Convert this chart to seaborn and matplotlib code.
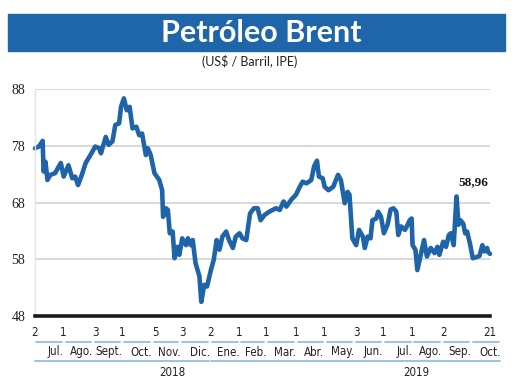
import numpy as np
import pandas as pd
import matplotlib
matplotlib.use('Agg')
from matplotlib import pyplot as plt
from matplotlib import transforms
from matplotlib.patches import Rectangle
import matplotlib.dates as mdates
import seaborn as sns

# Brent: dias desde 2018-07-02 y precio (US$/barril)
start = pd.Timestamp('2018-07-02')
days = [0, 4, 8, 9, 11, 13, 16, 21, 27, 30, 35, 39, 42, 45, 49, 53, 58, 63, 67, 69,
        74, 77, 81, 84, 88, 90, 93, 96, 99, 102, 106, 109, 112, 116, 118, 121, 125, 130, 133, 134,
        137, 139, 141, 144, 146, 149, 151, 154, 158, 160, 163, 165, 168, 172, 174, 177, 180, 184, 187, 190,
        193, 196, 200, 203, 207, 210, 214, 217, 221, 225, 229, 233, 236, 240, 245, 252, 256, 260, 263, 268,
        273, 277, 280, 284, 289, 292, 295, 297, 301, 303, 307, 312, 317, 320, 324, 327, 329, 332, 336, 339,
        343, 345, 348, 351, 353, 357, 359, 362, 365, 369, 372, 375, 378, 380, 383, 387, 389, 392, 394, 395,
        398, 400, 404, 407, 410, 414, 418, 421, 423, 427, 430, 433, 435, 438, 441, 443, 445, 448, 450, 452,
        455, 458, 462, 465, 468, 470, 473, 474, 476]
prices = [77.6, 77.9, 78.9, 73.5, 75.2, 72.0, 72.9, 73.2, 75.0, 72.6, 74.6, 72.3, 72.6, 71.1, 72.9, 75.0, 76.4, 77.9, 77.6, 76.7,
          79.6, 78.2, 78.8, 81.7, 82.0, 84.9, 86.4, 84.3, 84.9, 81.1, 81.4, 79.9, 80.2, 76.4, 77.6, 76.4, 73.2, 72.0, 70.2, 65.5,
          67.0, 66.7, 62.6, 62.9, 58.2, 60.2, 58.8, 61.7, 60.5, 61.7, 60.5, 61.4, 57.3, 55.0, 50.5, 53.5, 53.2, 56.1, 57.9, 61.4,
          59.7, 62.0, 62.9, 61.4, 60.0, 62.0, 62.6, 61.7, 61.4, 66.1, 67.0, 67.0, 64.9, 65.8, 66.4, 67.0, 66.7, 68.2, 67.3, 68.5,
          69.4, 70.8, 71.7, 71.4, 72.0, 74.4, 75.4, 72.6, 72.3, 70.8, 70.2, 70.8, 72.9, 72.0, 67.9, 69.9, 69.4, 61.7, 60.5, 63.2,
          62.0, 60.0, 62.0, 61.7, 64.9, 65.2, 66.4, 65.5, 62.6, 64.2, 66.8, 67.0, 66.4, 62.3, 63.8, 63.2, 63.8, 64.9, 65.2, 60.5,
          59.7, 56.1, 59.1, 61.4, 58.5, 60.0, 59.1, 60.2, 58.8, 61.1, 60.2, 62.3, 62.6, 60.5, 69.1, 64.1, 64.9, 64.3, 62.6, 62.9,
          60.8, 58.2, 58.4, 58.6, 60.5, 59.4, 60.0, 59.3, 58.96]

tick_dates = ['2018-07-02', '2018-08-01', '2018-09-03', '2018-10-01', '2018-11-05', '2018-12-03',
              '2019-01-02', '2019-02-01', '2019-03-01', '2019-04-01', '2019-05-01', '2019-06-03',
              '2019-07-01', '2019-08-01', '2019-09-02', '2019-10-21']
tick_labels = ['2', '1', '3', '1', '5', '3', '2', '1', '1', '1', '1', '3', '1', '1', '2', '21']
months = ['Jul.', 'Ago.', 'Sept.', 'Oct.', 'Nov.', 'Dic.', 'Ene.', 'Feb.', 'Mar.', 'Abr.',
          'May.', 'Jun.', 'Jul.', 'Ago.', 'Sep.', 'Oct.']
years = ['2018', '2019']
year_dates = ['2018-11-23', '2019-08-05']
year_spans = [('2018-07-01', '2019-01-01'), ('2019-01-01', '2019-11-01')]
y_ticks = [48, 58, 68, 78, 88]
last_label = '58,96'

df = pd.DataFrame({'fecha': start + pd.to_timedelta(days, unit='D'), 'precio': prices})

sns.set_style('white')
plt.rcParams['font.family'] = ['Lato', 'DejaVu Sans']

W, H = 520, 390
fig = plt.figure(figsize=(W / 100, H / 100), dpi=100)
ax = fig.add_axes([35 / W, 1 - 316 / H, 455 / W, (316 - 89.3) / H])

blue = '#1f63a8'
sns.lineplot(data=df, x='fecha', y='precio', ax=ax, color=blue, lw=3.3,
             solid_joinstyle='round', clip_on=False)

ax.set_xlim(df['fecha'].iloc[0], df['fecha'].iloc[-1])
ax.set_ylim(48, 88)
ax.set_yticks(y_ticks)
ax.set_xticks([])
ax.set_xlabel('')
ax.set_ylabel('')
ax.grid(axis='y', color='#d6d6d6', lw=1.3)
ax.set_axisbelow(True)
for s in ['top', 'right']:
    ax.spines[s].set_visible(False)
ax.spines['left'].set_color('#e2e2e2')
ax.spines['left'].set_linewidth(1)
ax.spines['bottom'].set_color('#1a1a1a')
ax.spines['bottom'].set_linewidth(2.6)
ax.tick_params(axis='y', length=0, pad=7, labelsize=10, labelcolor='#222222')
for t in ax.get_yticklabels():
    t.set_family('Liberation Serif')

# etiqueta del ultimo valor
ax.text(df['fecha'].iloc[-1] - pd.Timedelta(days=17), 71.7, last_label,
        ha='center', va='center', fontsize=9.5, fontweight='bold',
        family='Liberation Serif', color='#1a1a1a')

# eje inferior con dias, meses y anos
trans = transforms.blended_transform_factory(ax.transData, fig.transFigure)
def fy(px):
    return 1 - px / H

light = '#8ec1e3'
narrow = dict(family='DejaVu Sans', fontstretch='condensed', color='#222222')
for d, lab in zip(tick_dates, tick_labels):
    ax.text(mdates.date2num(pd.Timestamp(d)), fy(332), lab, transform=trans,
            ha='center', va='center', fontsize=8.3, **narrow)

month_starts = pd.date_range('2018-07-01', '2019-11-01', freq='MS')
for i, lab in enumerate(months):
    a = mdates.date2num(month_starts[i]) + 2
    b = mdates.date2num(month_starts[i + 1]) - 2
    ax.plot([a, b], [fy(342), fy(342)], transform=trans, color=light, lw=1.3, clip_on=False)
    ax.text(mdates.date2num(month_starts[i + 1]), fy(352), lab, transform=trans,
            ha='right', va='center', fontsize=8.3, **narrow)

for (a, b), lab, d in zip(year_spans, years, year_dates):
    ax.plot([mdates.date2num(pd.Timestamp(a)) + 1, mdates.date2num(pd.Timestamp(b)) - 1],
            [fy(361), fy(361)], transform=trans, color=light, lw=1.3, clip_on=False)
    ax.text(mdates.date2num(pd.Timestamp(d)), fy(373), lab, transform=trans,
            ha='center', va='center', fontsize=8.3, **narrow)

# titulo
fig.patches.append(Rectangle((8 / W, fy(51)), 497 / W, 37 / H, transform=fig.transFigure,
                             color='#1f65aa', zorder=0))
fig.text(261 / W, fy(33), 'Petróleo Brent', ha='center', va='center', color='white',
         fontsize=22, fontweight='bold')
fig.text(250 / W, fy(62), '(US$ / Barril, IPE)', ha='center', va='center',
         fontsize=9, color='#222222')

fig.savefig('out.png', dpi=100)
